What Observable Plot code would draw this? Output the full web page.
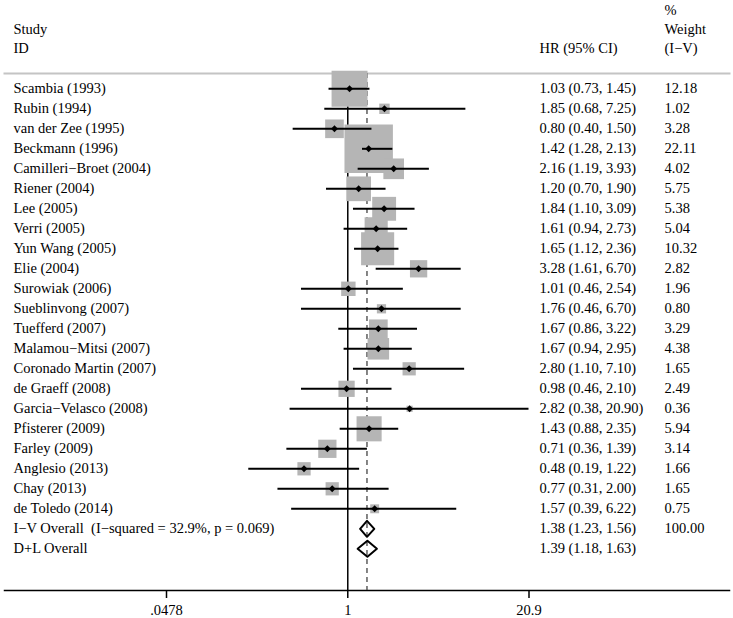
<!DOCTYPE html>
<html><head><meta charset="utf-8">
<script src="https://cdn.jsdelivr.net/npm/d3@7"></script>
<script src="https://cdn.jsdelivr.net/npm/@observablehq/plot@0.6"></script>
<style>html,body{margin:0;padding:0;background:#fff} svg{display:block}</style>
</head><body><div id="chart"></div>
<script>
const studies = ["Scambia (1993)","Rubin (1994)","van der Zee (1995)","Beckmann (1996)","Camilleri−Broet (2004)","Riener (2004)","Lee (2005)","Verri (2005)","Yun Wang (2005)","Elie (2004)","Surowiak (2006)","Sueblinvong (2007)","Tuefferd (2007)","Malamou−Mitsi (2007)","Coronado Martin (2007)","de Graeff (2008)","Garcia−Velasco (2008)","Pfisterer (2009)","Farley (2009)","Anglesio (2013)","Chay (2013)","de Toledo (2014)"];
const hr     = [1.03,1.85,0.80,1.42,2.16,1.20,1.84,1.61,1.65,3.28,1.01,1.76,1.67,1.67,2.80,0.98,2.82,1.43,0.71,0.48,0.77,1.57];
const lower  = [0.73,0.68,0.40,1.28,1.19,0.70,1.10,0.94,1.12,1.61,0.46,0.46,0.86,0.94,1.10,0.46,0.38,0.88,0.36,0.19,0.31,0.39];
const upper  = [1.45,7.25,1.50,2.13,3.93,1.90,3.09,2.73,2.36,6.70,2.54,6.70,3.22,2.95,7.10,2.10,20.90,2.35,1.39,1.22,2.00,6.22];
const weight = [12.18,1.02,3.28,22.11,4.02,5.75,5.38,5.04,10.32,2.82,1.96,0.80,3.29,4.38,1.65,2.49,0.36,5.94,3.14,1.66,1.65,0.75];

const overallLabels = ["I−V Overall\u00a0 (I−squared = 32.9%, p = 0.069)", "D+L Overall"];
const overallHR     = [1.38, 1.39];
const overallLower  = [1.23, 1.18];
const overallUpper  = [1.56, 1.63];
const overallWeight = ["100.00", ""];

const tickValues = [0.0478, 1, 20.9];
const tickLabels = [".0478", "1", "20.9"];

const headerStudy  = ["Study\nID"];
const headerHR     = ["HR (95% CI)"];
const headerWeight = ["%\nWeight\n(I−V)"];

const fmt = d3.format(".2f");
const n = studies.length;
const rows = studies.map((s, i) => ({study: s, hr: hr[i], lo: lower[i], hi: upper[i], w: weight[i], row: i,
  ci: `${fmt(hr[i])} (${fmt(lower[i])}, ${fmt(upper[i])})`, wt: fmt(weight[i])}));
const overall = overallLabels.map((s, k) => ({study: s, hr: overallHR[k], lo: overallLower[k], hi: overallUpper[k], row: n + k,
  ci: `${fmt(overallHR[k])} (${fmt(overallLower[k])}, ${fmt(overallUpper[k])})`, wt: overallWeight[k]}));
const half = 0.4;
const diamondPts = overall.flatMap((o, k) => [
  {x: o.lo, y: o.row, k}, {x: o.hr, y: o.row - half, k}, {x: o.hi, y: o.row, k},
  {x: o.hr, y: o.row + half, k}, {x: o.lo, y: o.row, k}]);
const all = rows.concat(overall);
const ticks = tickValues.map((v, i) => ({v, label: tickLabels[i]}));
const FS = 14.5;
const wmax = d3.max(weight);

const chart = Plot.plot({
  width: 733, height: 618,
  marginTop: 73, marginBottom: 28, marginLeft: 4, marginRight: 4,
  style: {fontFamily: "'Liberation Serif', 'Times New Roman', serif", fontSize: FS + "px", background: "white", color: "black"},
  x: {type: "log", domain: [tickValues[0], tickValues[2]], range: [166, 528.5]},
  y: {domain: [-0.765, n + 3.085], reverse: true, axis: null},
  r: {type: "sqrt", domain: [0, wmax], range: [0, 5.81 * Math.sqrt(wmax)]},
  marks: [
    Plot.frame({anchor: "top", stroke: "#c4c4c4", strokeWidth: 2}),
    Plot.frame({anchor: "bottom", stroke: "black", strokeWidth: 1.5}),
    Plot.ruleX([1], {stroke: "black", strokeWidth: 1.5}),
    Plot.ruleX([overallHR[0]], {stroke: "#444", strokeWidth: 1.3, strokeDasharray: "5,4"}),
    Plot.dot(rows, {x: "hr", y: "row", r: "w", symbol: "square", fill: "#b5b5b5", stroke: "none"}),
    Plot.ruleY(rows, {y: "row", x1: "lo", x2: "hi", stroke: "black", strokeWidth: 2}),
    Plot.dot(rows, {x: "hr", y: "row", r: 3.1, symbol: "diamond2", fill: "black", stroke: "none"}),
    Plot.line(diamondPts, {x: "x", y: "y", z: "k", stroke: "black", strokeWidth: 2, fill: "none"}),
    Plot.text(all, {y: "row", text: "study", frameAnchor: "left", dx: 9, textAnchor: "start", fontSize: FS}),
    Plot.text(all, {y: "row", text: "ci", frameAnchor: "left", dx: 535, textAnchor: "start", fontSize: FS}),
    Plot.text(all, {y: "row", text: "wt", frameAnchor: "left", dx: 660, textAnchor: "start", fontSize: FS}),
    Plot.text(headerStudy, {text: d => d, frameAnchor: "top-left", dx: 9, dy: -21, lineAnchor: "bottom", textAnchor: "start", lineHeight: 1.31, fontSize: FS}),
    Plot.text(headerHR, {text: d => d, frameAnchor: "top-left", dx: 535, dy: -21, lineAnchor: "bottom", textAnchor: "start", lineHeight: 1.31, fontSize: FS}),
    Plot.text(headerWeight, {text: d => d, frameAnchor: "top-left", dx: 660, dy: -21, lineAnchor: "bottom", textAnchor: "start", lineHeight: 1.31, fontSize: FS}),
    Plot.axisX({ticks: tickValues, tickFormat: () => "", tickSize: 8, strokeWidth: 1.5, label: null}),
    Plot.text(ticks, {x: "v", text: "label", frameAnchor: "bottom", dy: 20, lineAnchor: "middle", fontSize: FS})
  ]
});
document.getElementById("chart").appendChild(chart);
</script>
</body></html>
